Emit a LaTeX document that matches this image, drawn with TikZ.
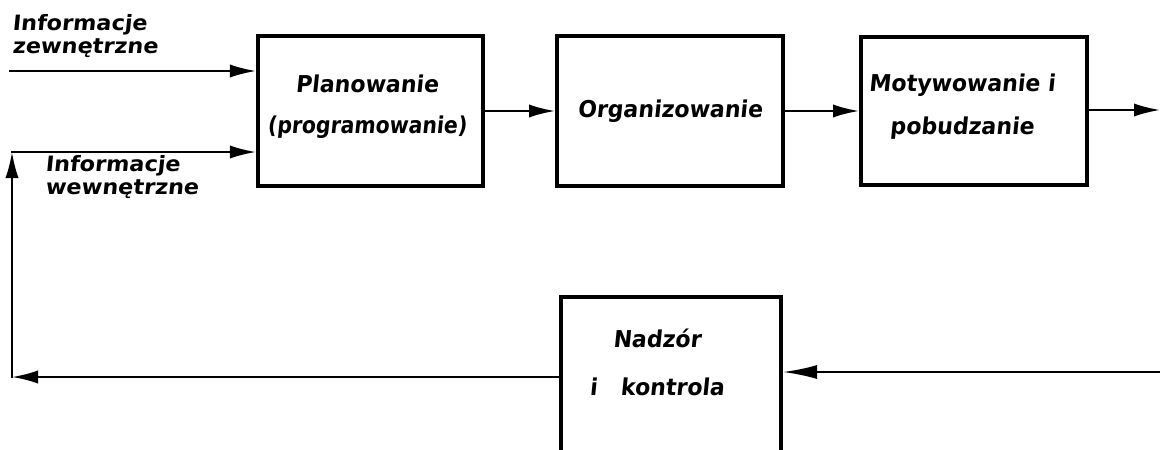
\documentclass[tikz,border=0pt]{standalone}
\usepackage{fontspec}
\setmainfont{DejaVu Sans}
\newfontfamily\boxfont{DejaVu Sans Bold}[FakeStretch=0.95,FakeSlant=0.1]
\newfontfamily\boxfontnarrow{DejaVu Sans Bold}[FakeStretch=0.88,FakeSlant=0.1]
\newfontfamily\labfont{DejaVu Sans Bold}[FakeStretch=1.06,FakeSlant=0.1]
\usetikzlibrary{arrows.meta}
\begin{document}
\begin{tikzpicture}[x=0.025cm,y=-0.025cm,
  blk/.style={draw, line width=2.8pt, inner sep=0pt, align=center,
    font=\boxfont\fontsize{16.5}{29}\selectfont},
  txt/.style={inner sep=0pt, align=center},
  lab/.style={inner sep=0pt, align=left,
    font=\labfont\fontsize{15}{16.3}\selectfont},
  conn/.style={line width=1.5pt, line cap=rect,
    -{Latex[length=0.65cm,width=0.33cm]}},
  connlong/.style={conn, -{Latex[length=0.85cm,width=0.35cm]}}]
\useasboundingbox (0,0) rectangle (1160,449);
\clip (0,0) rectangle (1160,449);

% upper chain of functions
\node[blk, minimum width=5.625cm, minimum height=3.75cm] (plan) at (370.5,111) {};
\node[txt, font=\boxfont\fontsize{16.5}{29}\selectfont] (planl) at (367,107)
  {Planowanie\\{\boxfontnarrow (programowanie)}};
\node[blk, minimum width=5.65cm, minimum height=3.75cm] (org) at (670,111)
  {Organizowanie};
\node[blk, minimum width=5.65cm, minimum height=3.7cm] (mot) at (974,111) {};
\node[txt, font=\boxfont\fontsize{16.5}{30.5}\selectfont] (motl) at (962,107)
  {Motywowanie i\\pobudzanie};

% supervision box, running off the lower edge
\node[blk, minimum width=5.5cm, minimum height=5cm] (nk) at (671,397) {};
\node[txt, font=\boxfont\fontsize{16.5}{34}\selectfont] (nkl) at (657,362)
  {Nadzór\\i\hspace{1em}kontrola};

% information labels
\node[lab, anchor=north west] (ext) at (12,14) {Informacje\\zewnętrzne};
\node[lab, anchor=north west] (int) at (45,155) {Informacje\\wewnętrzne};

% connectors
\coordinate (inL) at (10,71);
\coordinate (out) at (1160,110);
\coordinate (fbR) at (1160,372);
\coordinate (fbL) at (12,377);
\coordinate (fbT) at (12,152);

\draw[conn] (inL) -- (inL -| plan.west);
\draw[conn] (plan) -- (org);
\draw[conn] (org) -- (mot);
\draw[conn] (mot.east |- out) -- (out);
\draw[connlong] (fbR) -- (fbR -| nk.east);
\draw[conn] (fbL -| nk.west) -- (fbL);
\draw[conn] (fbL) -- (fbT);
\draw[conn] (fbT) -- (fbT -| plan.west);
\end{tikzpicture}
\end{document}
